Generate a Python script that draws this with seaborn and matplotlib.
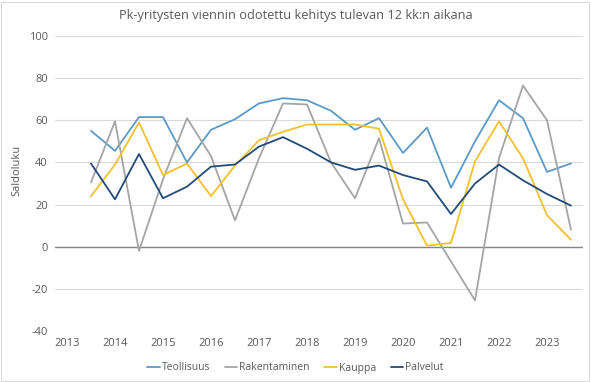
import matplotlib
matplotlib.use("Agg")
import matplotlib.pyplot as plt
import seaborn as sns
import pandas as pd
from matplotlib.patches import Rectangle

periods = [2013.5, 2014.0, 2014.5, 2015.0, 2015.5, 2016.0, 2016.5, 2017.0, 2017.5,
           2018.0, 2018.5, 2019.0, 2019.5, 2020.0, 2020.5, 2021.0, 2021.5, 2022.0,
           2022.5, 2023.0, 2023.5]

teollisuus = [55, 45.5, 61.5, 61.5, 40, 55.5, 60.5, 68, 70.5, 69.5, 64.5, 55.5, 61,
              44.5, 56.5, 28, 50, 69.5, 61, 35.5, 39.5]
rakentaminen = [30.5, 59.5, -2, 32, 61, 43, 12.5, 42, 68, 67.5, 40, 23, 51.5,
                11, 11.5, -7, -25.5, 42, 76.5, 60, 8]
kauppa = [24, 39, 59, 34, 39.5, 24, 38.5, 50.5, 54.5, 58, 58, 58, 56,
          22.5, 0.5, 1.8, 40.5, 59.5, 42, 15, 3.3]
palvelut = [39.5, 22.5, 44, 23, 28.5, 38, 39, 47.5, 52, 46.5, 40, 36.5, 38.5,
            34, 31, 15.5, 30, 39, 31.5, 25, 19.5]

series_names = ["Teollisuus", "Rakentaminen", "Kauppa", "Palvelut"]
series_values = [teollisuus, rakentaminen, kauppa, palvelut]
colors = ["#5B9AC8", "#A5A5A5", "#F2C12E", "#234B77"]

x_ticks = list(range(2013, 2024))
y_ticks = list(range(-40, 101, 20))

rows = []
for name, vals in zip(series_names, series_values):
    for p, v in zip(periods, vals):
        rows.append({"Vuosi": p, "Saldoluku": v, "Sarja": name})
df = pd.DataFrame(rows)

sns.set_theme(style="white")
plt.rcParams["font.family"] = ["Open Sans", "DejaVu Sans"]
text_color = "#595959"

fig = plt.figure(figsize=(5.91, 3.82), dpi=100)
ax = fig.add_axes([55 / 591, 51 / 382, 528 / 591, 295 / 382])

sns.lineplot(data=df, x="Vuosi", y="Saldoluku", hue="Sarja", hue_order=series_names,
             palette=colors, linewidth=1.3, ax=ax, legend=True)

ax.set_xlim(2012.75, 2023.75)
ax.set_ylim(-40, 100)
ax.set_xticks(x_ticks)
ax.set_xticklabels([str(t) for t in x_ticks])
ax.set_yticks(y_ticks)
ax.set_yticklabels([str(t) for t in y_ticks])
ax.tick_params(axis="both", length=0, labelsize=8, colors=text_color, pad=5)
for sp in ax.spines.values():
    sp.set_visible(False)
ax.grid(axis="y", color="#D9D9D9", linewidth=0.8)
ax.grid(axis="x", visible=False)
ax.axhline(0, color="#868686", linewidth=1.0, zorder=1)
ax.set_axisbelow(True)
ax.set_xlabel("")
ax.set_ylabel("")
fig.text(17 / 591, 1 - 170 / 382, "Saldoluku", rotation=90, fontsize=8, color=text_color,
         ha="center", va="center")

fig.text(0.5, 1 - 15 / 382, "Pk-yritysten viennin odotettu kehitys tulevan 12 kk:n aikana",
         fontsize=9.2, color=text_color, ha="center", va="center")

sns.move_legend(ax, "center", bbox_to_anchor=((295.5 - 55) / 528, (331 - 368) / 295),
                ncol=4, frameon=False, title=None, fontsize=7.5, handlelength=1.2,
                handletextpad=0.2, columnspacing=1.4, labelcolor=text_color)

fig.patches.append(Rectangle((0.002, 0.003), 0.995, 0.993, transform=fig.transFigure,
                             fill=False, edgecolor="#D9D9D9", linewidth=0.8))

fig.savefig("out.png", dpi=100)
